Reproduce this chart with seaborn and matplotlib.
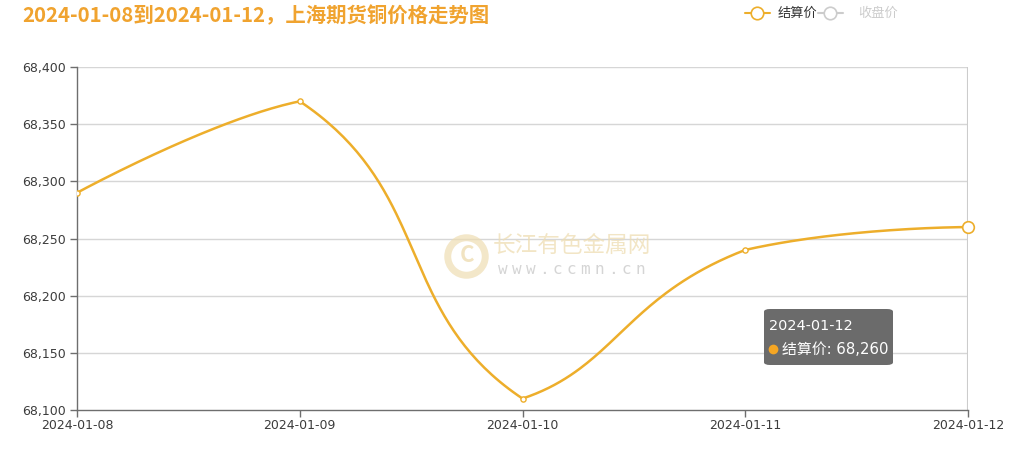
import numpy as np
import pandas as pd
import matplotlib
matplotlib.use("Agg")
import matplotlib.pyplot as plt
import seaborn as sns
from matplotlib.lines import Line2D
from matplotlib.patches import FancyBboxPatch
from matplotlib.ticker import FuncFormatter

# ---------------- data ----------------
dates = ["2024-01-08", "2024-01-09", "2024-01-10", "2024-01-11", "2024-01-12"]
settle_price = [68290, 68370, 68110, 68240, 68260]
y_ticks = [68100, 68150, 68200, 68250, 68300, 68350, 68400]
title_text = "2024-01-08到2024-01-12，上海期货铜价格走势图"
legend_labels = ["结算价", "收盘价"]
tooltip_idx = 4
watermark_cn = "长江有色金属网"
watermark_url = "www.ccmn.cn"

# ---------------- style ----------------
sns.set_theme(style="white")
plt.rcParams["font.family"] = ["Noto Sans CJK SC", "DejaVu Sans"]
LATIN = ["DejaVu Sans", "Noto Sans CJK SC"]

LINE_C = "#EDAE2B"
TITLE_C = "#F0A32F"
TEXT_C = "#3C3C3C"
AXIS_C = "#6E6E6E"
GRID_C = "#D6D6D6"

W, H = 1012, 455
fig = plt.figure(figsize=(W / 100, H / 100), dpi=100)
L, R, T, B = 77, 968, 67, 410
ax = fig.add_axes([L / W, 1 - B / H, (R - L) / W, (B - T) / H])
ax.patch.set_alpha(0)

xs = np.arange(len(dates))
ymin, ymax = y_ticks[0], y_ticks[-1]
ax.set_xlim(0, len(dates) - 1)
ax.set_ylim(ymin, ymax)


def fx(px):
    return px / W


def fy(py):
    return 1 - py / H


# ---------------- smooth curve (bezier through the data points) ----------------
sx = (R - L) / (len(dates) - 1)
sy = (B - T) / (ymax - ymin)
P = np.column_stack([xs * sx, np.array(settle_price, float) * sy])
smooth, alpha_k = 0.5, 0.5
n = len(P)
cp_in = [None] * n
cp_out = [None] * n
cp_out[0] = P[0].copy()
cp_in[n - 1] = P[n - 1].copy()
for i in range(1, n - 1):
    v = (P[i + 1] - P[i - 1]) * smooth
    d0 = np.linalg.norm(P[i] - P[i - 1])
    d1 = np.linalg.norm(P[i] - P[i + 1])
    s = d0 + d1
    d0, d1 = d0 / s, d1 / s
    ci = P[i] - v * d0
    co = P[i] + v * d1
    sl_in = (P[i, 1] - P[i - 1, 1]) / (P[i, 0] - P[i - 1, 0])
    sl_out = (P[i + 1, 1] - P[i, 1]) / (P[i + 1, 0] - P[i, 0])
    if sl_in * sl_out < 0:  # local extremum: soft corner
        ci[1] = P[i, 1] - (P[i, 0] - ci[0]) * alpha_k * sl_in
        co[1] = P[i, 1] + (co[0] - P[i, 0]) * alpha_k * sl_out
    else:
        lo, hi = sorted([P[i - 1, 1], P[i, 1]])
        ci[1] = np.clip(ci[1], lo, hi)
        lo, hi = sorted([P[i + 1, 1], P[i, 1]])
        co[1] = np.clip(co[1], lo, hi)
    cp_in[i], cp_out[i] = ci, co

t = np.linspace(0, 1, 80)[:, None]
curve = []
for i in range(n - 1):
    p0, c0, c1, p1 = P[i], cp_out[i], cp_in[i + 1], P[i + 1]
    seg = ((1 - t) ** 3) * p0 + 3 * ((1 - t) ** 2) * t * c0 + 3 * (1 - t) * t ** 2 * c1 + t ** 3 * p1
    curve.append(seg if i == 0 else seg[1:])
curve = np.vstack(curve)
curve_df = pd.DataFrame({"x": curve[:, 0] / sx, "y": curve[:, 1] / sy})

# grid
for yv in y_ticks[1:]:
    ax.axhline(yv, color=GRID_C, lw=1.0, zorder=0)

# axis pointer
ax.axvline(xs[tooltip_idx], color="#CCCCCC", lw=1.5, zorder=1)

sns.lineplot(data=curve_df, x="x", y="y", sort=False, estimator=None,
             color=LINE_C, lw=1.8, ax=ax, zorder=3)
pts = pd.DataFrame({"x": xs, "y": settle_price})
sns.scatterplot(data=pts.drop(index=tooltip_idx), x="x", y="y", ax=ax, s=14,
                color="white", edgecolor=LINE_C, linewidth=1.0, zorder=4)
sns.scatterplot(data=pts.loc[[tooltip_idx]], x="x", y="y", ax=ax, s=70,
                color="white", edgecolor=LINE_C, linewidth=1.2, zorder=5,
                clip_on=False)

# axes styling
for sp in ["top", "right"]:
    ax.spines[sp].set_visible(False)
for sp in ["left", "bottom"]:
    ax.spines[sp].set_color(AXIS_C)
    ax.spines[sp].set_linewidth(1.0)
ax.set_yticks(y_ticks)
ax.yaxis.set_major_formatter(FuncFormatter(lambda v, p: f"{int(v):,}"))
ax.set_xticks(xs)
ax.set_xticklabels(dates)
ax.tick_params(axis="both", which="major", length=5, width=1, color=AXIS_C,
               labelsize=9, labelcolor=TEXT_C, pad=3, left=True, bottom=True)
ax.tick_params(axis="x", pad=1.5)
for lab in ax.get_xticklabels() + ax.get_yticklabels():
    lab.set_family(LATIN)
ax.set_xlabel("")
ax.set_ylabel("")
ax.grid(False)

# ---------------- title ----------------
fig.text(fx(22), fy(16), title_text, fontsize=14.7, fontweight="bold",
         color=TITLE_C, ha="left", va="center")

# ---------------- legend ----------------
ly = fy(13)
fig.add_artist(Line2D([fx(745), fx(770)], [ly, ly], color=LINE_C, lw=1.5,
                      transform=fig.transFigure))
fig.add_artist(Line2D([fx(757)], [ly], marker="o", markersize=9, mfc="white",
                      mec=LINE_C, mew=1.2, transform=fig.transFigure))
fig.text(fx(778), ly, legend_labels[0], fontsize=9.5, color="#333333",
         ha="left", va="center")
fig.add_artist(Line2D([fx(818), fx(843)], [ly, ly], color="#CCCCCC", lw=1.5,
                      transform=fig.transFigure))
fig.add_artist(Line2D([fx(830)], [ly], marker="o", markersize=9, mfc="white",
                      mec="#CCCCCC", mew=1.2, transform=fig.transFigure))
fig.text(fx(858), ly, legend_labels[1], fontsize=9.5, color="#CCCCCC",
         ha="left", va="center")

# ---------------- watermark ----------------
wm = "#EEDDB2"
fig.add_artist(Line2D([fx(466)], [fy(256)], marker="o", markersize=27,
                      mfc="none", mec=wm, mew=5, alpha=0.7,
                      transform=fig.transFigure, zorder=1))
fig.text(fx(467), fy(256), "C", fontsize=16, fontweight="bold", color=wm,
         alpha=0.8, ha="center", va="center", zorder=1)
fig.text(fx(493), fy(245), watermark_cn, fontsize=16.3, color=wm, alpha=0.75,
         ha="left", va="center", zorder=1)
for k, ch in enumerate(watermark_url):
    fig.text(fx(503 + k * 13.7), fy(269), ch, fontsize=11.5, color="#D5D5D5",
             family=["DejaVu Sans Mono"], ha="center", va="center", zorder=1)

# ---------------- tooltip ----------------
tb = FancyBboxPatch((fx(764), fy(365)), fx(893) - fx(764), fy(309) - fy(365),
                    boxstyle="round,pad=0,rounding_size=0.006",
                    transform=fig.transFigure, facecolor="#6B6B6B",
                    edgecolor="none", zorder=10)
fig.add_artist(tb)
fig.text(fx(769), fy(326), dates[tooltip_idx], fontsize=10.4, color="white",
         family=LATIN, ha="left", va="center", zorder=11)
fig.add_artist(Line2D([fx(773)], [fy(349)], marker="o", markersize=7,
                      mfc="#F5A623", mec="none", transform=fig.transFigure,
                      zorder=11))
fig.text(fx(782), fy(349), f"{legend_labels[0]}: {settle_price[tooltip_idx]:,}",
         fontsize=10.7, color="white", family=LATIN, ha="left", va="center",
         zorder=11)

fig.savefig("out.png", dpi=100)
